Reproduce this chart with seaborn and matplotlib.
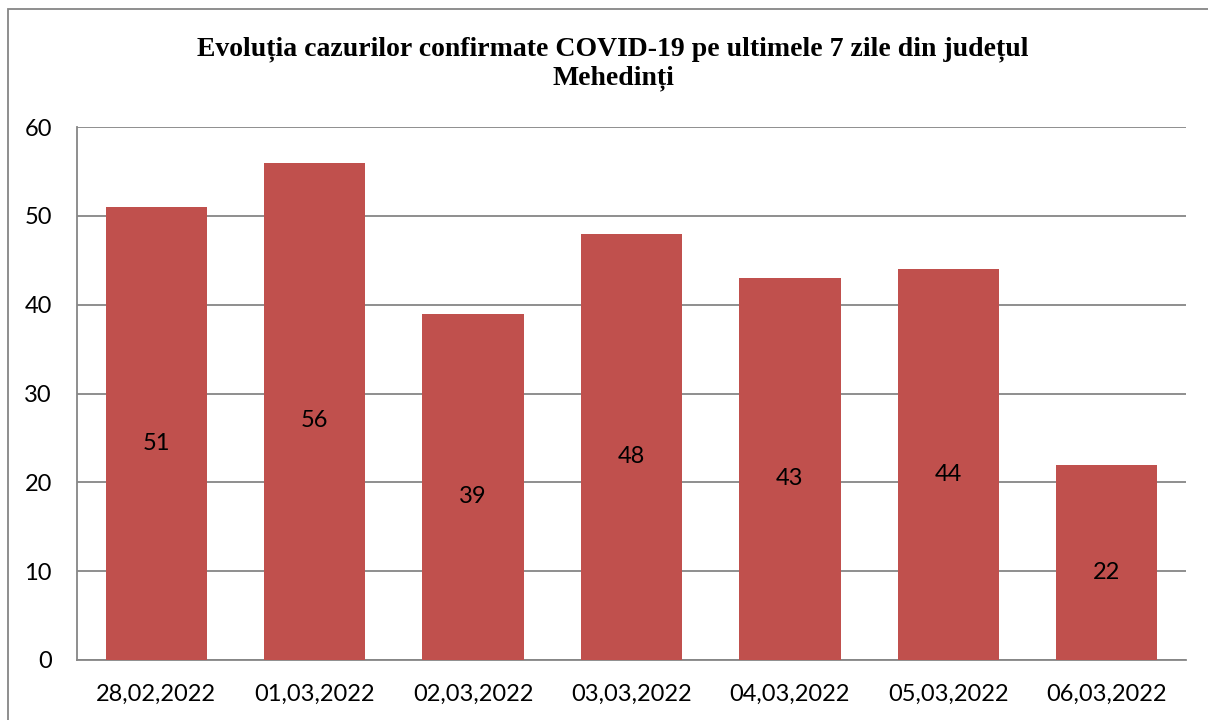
import matplotlib
matplotlib.use("Agg")
import matplotlib.pyplot as plt
import seaborn as sns
import pandas as pd
from matplotlib.patches import Rectangle

dates = ["28,02,2022", "01,03,2022", "02,03,2022", "03,03,2022",
         "04,03,2022", "05,03,2022", "06,03,2022"]
cases = [51, 56, 39, 48, 43, 44, 22]
yticks = [0, 10, 20, 30, 40, 50, 60]
title = "Evoluția cazurilor confirmate COVID-19 pe ultimele 7 zile din județul\nMehedinți"

sns.set_theme(style="white")
plt.rcParams['font.family'] = ['Lato', 'DejaVu Sans']

df = pd.DataFrame({"data": dates, "cazuri": cases})

fig = plt.figure(figsize=(12.08, 7.2), dpi=100)
ax = fig.add_axes([77/1208, 60/720, (1186-77)/1208, (660-127)/720])

sns.barplot(data=df, x="data", y="cazuri", color="#C0504D", saturation=1,
            width=0.64, ax=ax, zorder=3, linewidth=0)

ax.set_ylim(0, 60)
ax.set_xlim(-0.5, len(dates) - 0.5)
ax.set_yticks(yticks)
ax.set_yticklabels([str(t) for t in yticks])
ax.yaxis.grid(True, color="#868686", linewidth=1.3, zorder=0)
ax.set_axisbelow(True)
ax.set_xlabel("")
ax.set_ylabel("")
ax.tick_params(axis="y", labelsize=17, pad=18, length=0, labelcolor="black")
ax.tick_params(axis="x", labelsize=17, pad=17, length=0, labelcolor="black")
for s in ["top", "right"]:
    ax.spines[s].set_visible(False)
for s in ["left", "bottom"]:
    ax.spines[s].set_color("#868686")
    ax.spines[s].set_linewidth(1.3)

for i, v in enumerate(cases):
    ax.annotate(str(v), xy=(i, v / 2), xytext=(0, -7), textcoords="offset points",
                ha="center", va="center", fontsize=17, color="black", zorder=5)

fig.text(613/1208, 1 - 64/720, title, ha="center", va="center",
         fontsize=20, fontweight="bold", family="Liberation Serif",
         linespacing=1.2, color="black")

fig.patches.append(Rectangle((8/1208, -0.05), 1.1, 1.05 - 9/720,
                             transform=fig.transFigure, fill=False,
                             edgecolor="#868686", linewidth=1.3))

fig.savefig("out.png", dpi=100, facecolor="white")
